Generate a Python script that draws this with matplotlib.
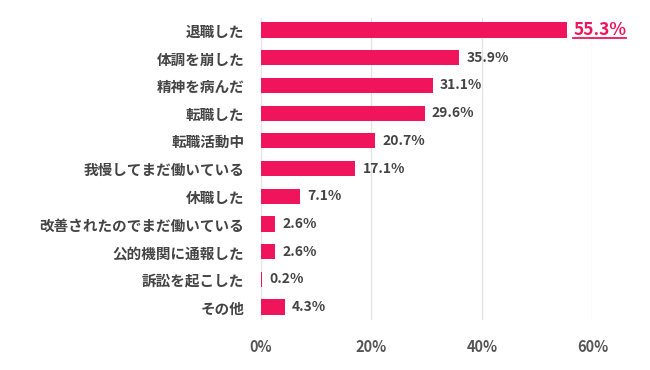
import matplotlib
matplotlib.use('Agg')
import matplotlib.pyplot as plt
from matplotlib.lines import Line2D

plt.rcParams['font.family'] = ['Noto Sans CJK JP', 'DejaVu Sans']

categories = ['退職した', '体調を崩した', '精神を病んだ', '転職した', '転職活動中',
              '我慢してまだ働いている', '休職した', '改善されたのでまだ働いている',
              '公的機関に通報した', '訴訟を起こした', 'その他']
values = [55.3, 35.9, 31.1, 29.6, 20.7, 17.1, 7.1, 2.6, 2.6, 0.2, 4.3]
xticks = [0, 20, 40, 60]

pink = '#F0145C'
grey = '#555555'

fig = plt.figure(figsize=(6.5, 3.7), dpi=100)
ax = fig.add_axes([0.4015, 0.135, 0.51, 0.816])

ypos = list(range(len(categories)))
ax.barh(ypos, values, height=0.55, color=pink, zorder=2)
ax.set_ylim(len(categories) - 0.53, -0.43)
ax.set_xlim(0, 60)
ax.set_xticks(xticks)
ax.set_xticklabels(['{}%'.format(t) for t in xticks], color=grey, fontsize=10.5, fontweight='bold')
ax.set_yticks(ypos)
ax.set_yticklabels(categories, color='#444444', fontsize=10.5, fontweight='bold')
ax.tick_params(axis='both', length=0)
ax.tick_params(axis='y', pad=12)
ax.tick_params(axis='x', pad=14)
for s in ax.spines.values():
    s.set_visible(False)
ax.grid(axis='x', color='#e3e3e3', linewidth=0.9, zorder=0)
ax.set_axisbelow(True)

texts = []
for i, v in enumerate(values):
    if i == 0:
        t = ax.annotate('{:.1f}%'.format(v), (v, i), xytext=(5, 0), textcoords='offset points',
                        va='center', ha='left', color=pink, fontsize=12.5, fontweight='bold')
        texts.append(t)
    else:
        ax.annotate('{:.1f}%'.format(v), (v, i), xytext=(5, 0), textcoords='offset points',
                    va='center', ha='left', color='#444444', fontsize=10, fontweight='bold')

# underline the top value
fig.canvas.draw()
bb = texts[0].get_window_extent()
y0 = bb.y0 + 1
line = Line2D([bb.x0, bb.x1], [y0, y0], transform=None, color=pink, linewidth=1.3)
fig.add_artist(line)

fig.savefig('out.png', dpi=100)
